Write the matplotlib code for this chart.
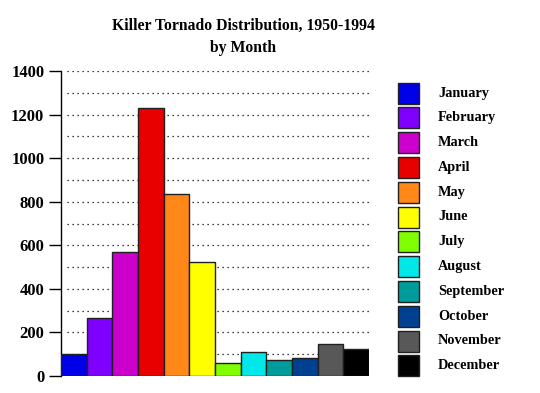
import matplotlib.pyplot as plt
from matplotlib.patches import Rectangle

months = ["January", "February", "March", "April", "May", "June",
          "July", "August", "September", "October", "November", "December"]
deaths = [101, 264, 567, 1228, 837, 523, 60, 112, 75, 81, 147, 122]
colors = ["#0000e8", "#8000ff", "#cc00cc", "#e80000", "#ff8818", "#ffff00",
          "#80ff00", "#00e8e8", "#009c9c", "#004090", "#585858", "#000000"]

plt.rcParams['font.family'] = ['Liberation Serif', 'DejaVu Serif']
plt.rcParams['font.weight'] = 'bold'

fig = plt.figure(figsize=(5.4, 3.93), dpi=100)
ax = fig.add_axes([61 / 540, 1 - 376 / 393, 308 / 540, 305 / 393])

x = range(len(months))
ax.bar(x, deaths, width=1.0, color=colors, edgecolor='#202020',
       linewidth=1.0, zorder=3)
ax.set_xlim(-0.5, len(months) - 0.5)
ax.set_ylim(0, 1400)
ax.set_yticks(range(0, 1401, 200))
ax.set_xticks([])
for y in range(100, 1401, 100):
    ax.axhline(y, color='black', linestyle=(0, (1, 3)), linewidth=0.9,
               xmin=0.02, zorder=1)

for side in ['top', 'right', 'bottom']:
    ax.spines[side].set_visible(False)
ax.spines['left'].set_linewidth(1.0)
ax.tick_params(axis='y', length=9, width=1, labelsize=12, pad=3)

fig.text(243 / 540, 1 - 37 / 393, "Killer Tornado Distribution, 1950-1994\nby Month",
         ha='center', va='center', fontsize=11.3, fontweight='bold',
         linespacing=1.5)

# legend
y0 = 93
step = 24.8
for i, (m, c) in enumerate(zip(months, colors)):
    yc = y0 + i * step
    fig.patches.append(Rectangle((398 / 540, 1 - (yc + 10.5) / 393), 21 / 540, 21 / 393,
                                 facecolor=c, edgecolor='#202020', linewidth=1,
                                 transform=fig.transFigure, figure=fig))
    fig.text(438 / 540, 1 - yc / 393, m, ha='left', va='center',
             fontsize=10.3, fontweight='bold')

fig.savefig("out.png", dpi=100)
